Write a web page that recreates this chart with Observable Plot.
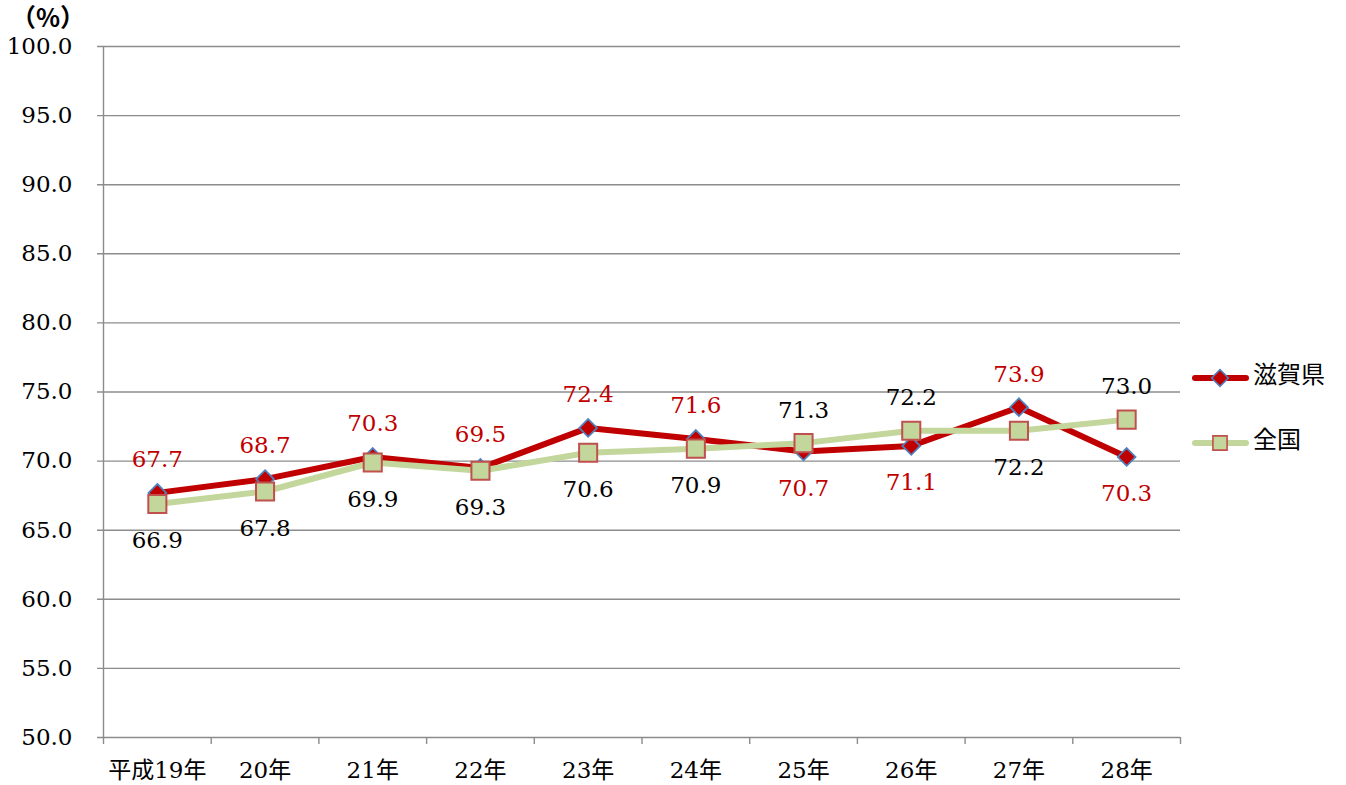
<!DOCTYPE html>
<html>
<head>
<meta charset="utf-8">
<script src="https://cdn.jsdelivr.net/npm/d3@7"></script>
<script src="https://cdn.jsdelivr.net/npm/@observablehq/plot@0.6"></script>
<style>
  html, body { margin: 0; padding: 0; background: #fff; }
  #wrap { position: relative; width: 1346px; height: 785px; }
</style>
</head>
<body>
<div id="wrap"></div>
<script>
// ---- data ----
const years = ["平成19年","20年","21年","22年","23年","24年","25年","26年","27年","28年"];
const shiga = [67.7, 68.7, 70.3, 69.5, 72.4, 71.6, 70.7, 71.1, 73.9, 70.3];
const zenkoku = [66.9, 67.8, 69.9, 69.3, 70.6, 70.9, 71.3, 72.2, 72.2, 73.0];
const shigaLabelPos = ["above","above","above","above","above","above","below","below","above","below"];
const zenkokuLabelPos = ["below","below","below","below","below","below","above","above","below","above"];
const yTicks = [50, 55, 60, 65, 70, 75, 80, 85, 90, 95, 100];
const seriesNames = ["滋賀県", "全国"];

const RED = "#C00000", GREEN = "#C3D69B", BLUE = "#4F81BD", SQSTROKE = "#C0504D", GRID = "#8C8C8C";
const serif = "'DejaVu Serif', 'Noto Sans CJK JP', serif";
const FS = 23;

const rows = years.map((y, i) => ({
  i, year: y, xc: i + 0.5,
  shiga: shiga[i], zenkoku: zenkoku[i],
  sPos: shigaLabelPos[i], zPos: zenkokuLabelPos[i]
}));

const ABOVE = -33, BELOW = 37;

const chart = Plot.plot({
  width: 1346,
  height: 785,
  marginLeft: 103,
  marginRight: 166,
  marginTop: 46,
  marginBottom: 48,
  style: { fontFamily: serif, fontSize: FS + "px", background: "#fff", overflow: "visible" },
  x: { domain: [0, years.length], axis: null },
  y: { domain: [50, 100], axis: null },
  marks: [
    Plot.ruleY(yTicks, { x1: 0, x2: years.length, insetLeft: -6, stroke: GRID, strokeWidth: 1.4 }),
    Plot.ruleX([0], { y1: 50, y2: 100, stroke: GRID, strokeWidth: 1.4 }),
    Plot.axisY({ ticks: yTicks, tickSize: 0, tickPadding: 31, tickFormat: d => d.toFixed(1), label: null,
      fontSize: FS, fontFamily: serif, fill: "#000" }),
    Plot.axisX({ ticks: d3.range(years.length + 1), tickSize: 7, tickFormat: () => "", label: null,
      stroke: GRID, strokeWidth: 1.4 }),
    Plot.axisX({ ticks: rows.map(d => d.xc), tickSize: 0, tickPadding: 24, label: null,
      tickFormat: d => years[Math.floor(d)], fontSize: FS, fontFamily: serif, fill: "#000" }),
    // lines
    Plot.line(rows, { x: "xc", y: "shiga", stroke: RED, strokeWidth: 6, strokeLinejoin: "round" }),
    Plot.line(rows, { x: "xc", y: "zenkoku", stroke: GREEN, strokeWidth: 6, strokeLinejoin: "round" }),
    // markers
    Plot.dot(rows, { x: "xc", y: "shiga", symbol: "diamond2", r: 8, fill: RED, stroke: BLUE, strokeWidth: 1.8 }),
    Plot.dot(rows, { x: "xc", y: "zenkoku", symbol: "square", r: 10.2, fill: GREEN, stroke: SQSTROKE, strokeWidth: 2 }),
    // labels
    Plot.text(rows.filter(d => d.sPos === "above"), { x: "xc", y: "shiga", text: d => d.shiga.toFixed(1), dy: ABOVE, fill: RED, fontSize: FS, fontFamily: serif }),
    Plot.text(rows.filter(d => d.sPos === "below"), { x: "xc", y: "shiga", text: d => d.shiga.toFixed(1), dy: BELOW, fill: RED, fontSize: FS, fontFamily: serif }),
    Plot.text(rows.filter(d => d.zPos === "above"), { x: "xc", y: "zenkoku", text: d => d.zenkoku.toFixed(1), dy: ABOVE, fill: "#000", fontSize: FS, fontFamily: serif }),
    Plot.text(rows.filter(d => d.zPos === "below"), { x: "xc", y: "zenkoku", text: d => d.zenkoku.toFixed(1), dy: BELOW, fill: "#000", fontSize: FS, fontFamily: serif })
  ]
});

const wrap = document.getElementById("wrap");
wrap.appendChild(chart);

// unit label and legend (added into the SVG)
const svg = d3.select(chart);
svg.append("text")
  .attr("x", 48).attr("y", 20)
  .attr("text-anchor", "middle").attr("dominant-baseline", "middle")
  .style("font-family", "'Noto Sans CJK JP', sans-serif").style("font-weight", "bold").style("font-size", "25px")
  .attr("fill", "#000")
  .text("（%）");

const leg = svg.append("g").attr("transform", "translate(1192,0)");
const legItems = [
  { name: seriesNames[0], y: 378, stroke: RED, symbol: d3.symbolDiamond2, size: 7.5 * 7.5 * Math.PI, fill: RED, ms: BLUE },
  { name: seriesNames[1], y: 443, stroke: GREEN, symbol: d3.symbolSquare, size: 8 * 8 * Math.PI, fill: GREEN, ms: SQSTROKE }
];
legItems.forEach(it => {
  leg.append("line").attr("x1", 3).attr("x2", 54).attr("y1", it.y).attr("y2", it.y)
    .attr("stroke", it.stroke).attr("stroke-width", 6).attr("stroke-linecap", "round");
  leg.append("path").attr("d", d3.symbol(it.symbol, it.size)())
    .attr("transform", `translate(28,${it.y})`)
    .attr("fill", it.fill).attr("stroke", it.ms).attr("stroke-width", 1.6);
  leg.append("text").attr("x", 61).attr("y", it.y - 2)
    .attr("text-anchor", "start").attr("dominant-baseline", "middle")
    .style("font-family", "'Noto Sans CJK JP', sans-serif").style("font-size", "24px").attr("fill", "#000")
    .text(it.name);
});
</script>
</body>
</html>
